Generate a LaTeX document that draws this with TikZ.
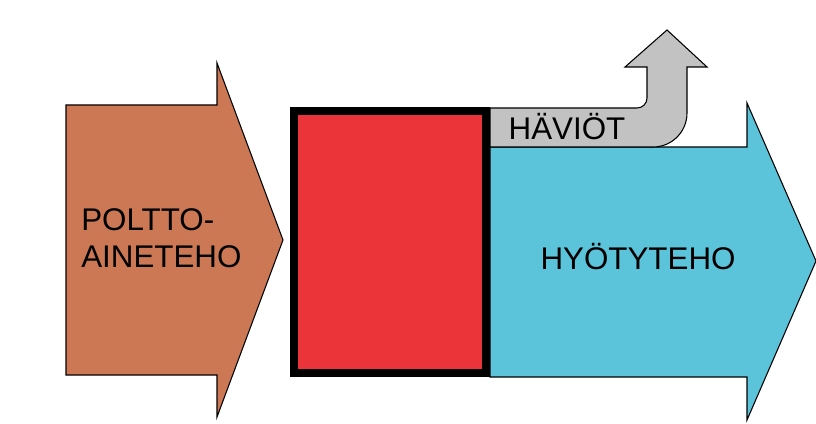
\documentclass[tikz,border=0pt]{standalone}
\usepackage{fontspec}
\setmainfont{Liberation Sans}
\definecolor{fuelbrown}{RGB}{205,120,84}
\definecolor{boilerred}{RGB}{235,51,58}
\definecolor{usefulblue}{RGB}{92,196,218}
\definecolor{lossgrey}{RGB}{194,194,194}
\tikzset{
  flow/.style={draw=black, line width=0.8pt, line join=miter},
  flow-fuel/.style={flow, fill=fuelbrown},
  flow-useful/.style={flow, fill=usefulblue},
  flow-loss/.style={flow, fill=lossgrey},
  boiler/.style={draw=black, line width=6pt, fill=boilerred, inner sep=0pt,
    minimum width=144pt, minimum height=196.5pt},
  flowlabel/.style={font=\fontsize{23.5}{28}\selectfont, inner sep=0pt}
}
\begin{document}
\begin{tikzpicture}[x=0.75pt, y=-0.75pt]
  \useasboundingbox (0,0) rectangle (816,424);
  % Fuel input arrow
  \draw[flow-fuel] (66,105) -- (217,105) -- (217,63) -- (283,240)
    -- (217,417) -- (217,375) -- (66,375) -- cycle;
  % Useful output arrow
  \draw[flow-useful] (490,147) -- (747,147) -- (747,103) -- (816,261)
    -- (747,420) -- (747,377) -- (490,377) -- cycle;
  % Losses, bent upwards
  \draw[flow-loss] (490,108) -- (637,108) to[out=0,in=-90] (647,98)
    -- (647,67) -- (625,67) -- (667,30) -- (707,67) -- (687,67)
    -- (687,113) to[out=-90,in=0] (653,147) -- (490,147) -- cycle;
  % Boiler
  \node[boiler] (kattila) at (390,242) {};
  % Labels
  \node[flowlabel, anchor=west, align=left] (polttoaine) at (81,238)
    {POLTTO-\\AINETEHO};
  \node[flowlabel] (hyoty) at (638,257) {HYÖTYTEHO};
  \node[flowlabel] (haviot) at (567,127) {HÄVIÖT};
\end{tikzpicture}
\end{document}
